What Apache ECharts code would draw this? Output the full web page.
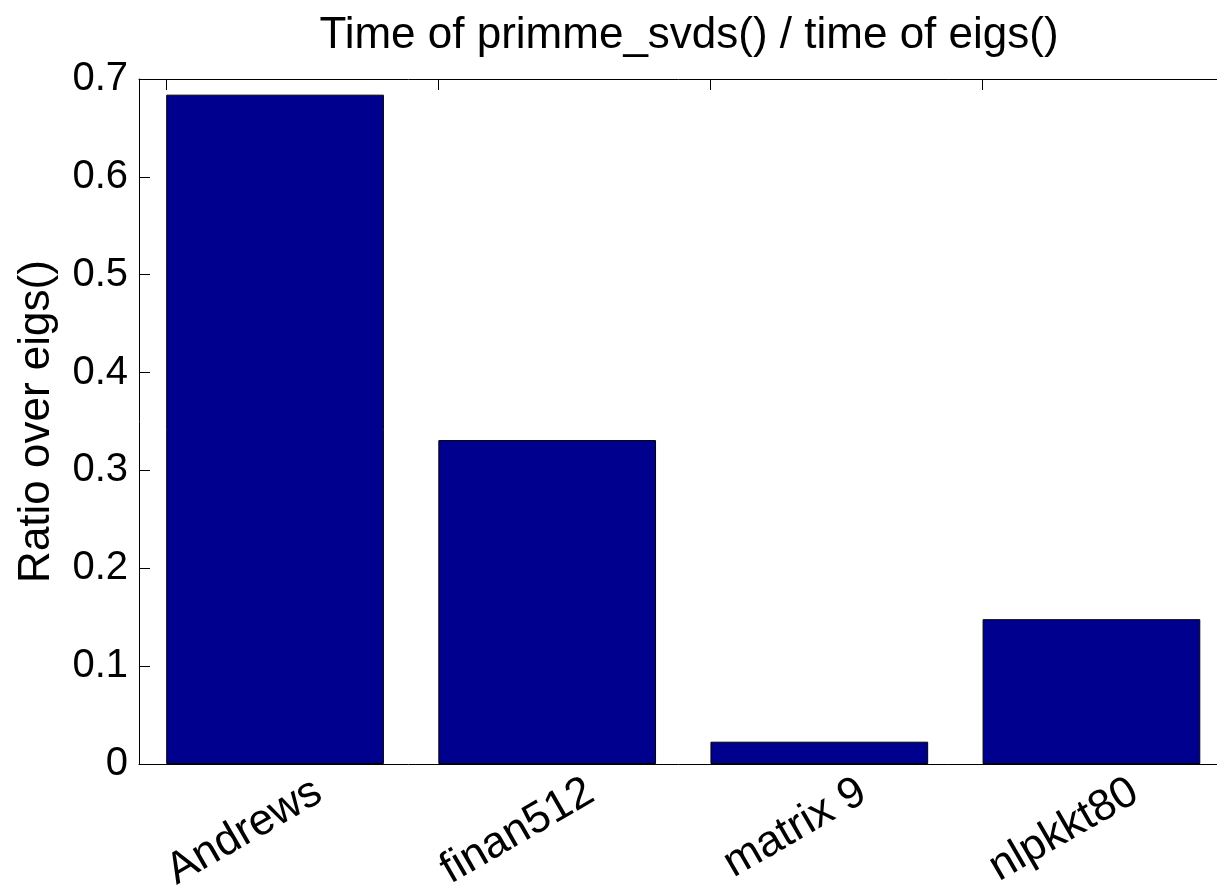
<!DOCTYPE html>
<html>
<head>
<meta charset="utf-8">
<title>Time of primme_svds() / time of eigs()</title>
<script src="https://cdn.jsdelivr.net/npm/echarts@6/dist/echarts.min.js"></script>
<style>
  html, body { margin: 0; padding: 0; background: #ffffff; }
  #chart { width: 1217px; height: 887px; }
</style>
</head>
<body>
<div id="chart"></div>
<script>
// Test matrices and the runtime ratio primme_svds() / eigs() for each
const categories = ['Andrews', 'finan512', 'matrix 9', 'nlpkkt80'];
const ratios = [0.684, 0.331, 0.0228, 0.148];
const yTicks = [0, 0.1, 0.2, 0.3, 0.4, 0.5, 0.6, 0.7];

const FONT = '"Liberation Sans", Arial, Helvetica, sans-serif';

// rotated labels sit a little to the right of each bar's centre
const labelPos = categories.map((c, i) => i + 0.66);
// small inward ticks along the top edge
const topTickPos = categories.map((c, i) => i + 0.1);

const chart = echarts.init(document.getElementById('chart'), null, { renderer: 'canvas' });

chart.setOption({
  backgroundColor: '#ffffff',
  animation: false,
  title: {
    text: 'Time of primme_svds() / time of eigs()',
    left: 684,
    top: 9,
    textAlign: 'center',
    textStyle: { fontFamily: FONT, fontSize: 44, fontWeight: 'normal', color: '#000' }
  },
  grid: {
    left: 139, right: -10.5, top: 79, bottom: 123,
    containLabel: false,
    outerBoundsMode: 'none'
  },
  xAxis: [
    {
      type: 'category',
      data: categories,
      boundaryGap: true,
      axisLine: { show: true, lineStyle: { color: '#000', width: 1 } },
      axisTick: { show: false },
      axisLabel: { show: false },
      splitLine: { show: false }
    },
    {
      // label carrier for the category names
      type: 'value',
      position: 'bottom',
      min: 0,
      max: categories.length,
      axisLine: { show: false },
      axisTick: { show: false },
      splitLine: { show: false },
      axisLabel: {
        customValues: labelPos,
        rotate: 30,
        margin: 25,
        fontFamily: FONT,
        fontSize: 44,
        color: '#000',
        hideOverlap: false,
        formatter: v => categories[Math.floor(v)]
      }
    },
    {
      type: 'value',
      position: 'top',
      min: 0,
      max: categories.length,
      axisLine: { show: true, onZero: false, lineStyle: { color: '#000', width: 1 } },
      axisTick: { show: true, inside: true, length: 11, customValues: topTickPos, lineStyle: { color: '#000' } },
      axisLabel: { show: false },
      splitLine: { show: false }
    }
  ],
  yAxis: {
    type: 'value',
    min: 0,
    max: 0.7,
    interval: 0.1,
    name: 'Ratio over eigs()',
    nameLocation: 'middle',
    nameGap: 80,
    nameTextStyle: { fontFamily: FONT, fontSize: 44, color: '#000' },
    axisLine: { show: true, lineStyle: { color: '#000', width: 1 } },
    axisTick: { show: true, inside: true, length: 11, lineStyle: { color: '#000' } },
    splitLine: { show: false },
    axisLabel: {
      margin: 11,
      fontFamily: FONT,
      fontSize: 40,
      color: '#000',
      formatter: v => {
        const t = yTicks.find(k => Math.abs(k - v) < 1e-9);
        return t === undefined ? '' : String(t);
      }
    }
  },
  series: [
    {
      type: 'bar',
      xAxisIndex: 0,
      data: ratios,
      barWidth: '80%',
      itemStyle: { color: '#00008F', borderColor: '#000', borderWidth: 1 },
      z: 1
    }
  ]
});
</script>
</body>
</html>
